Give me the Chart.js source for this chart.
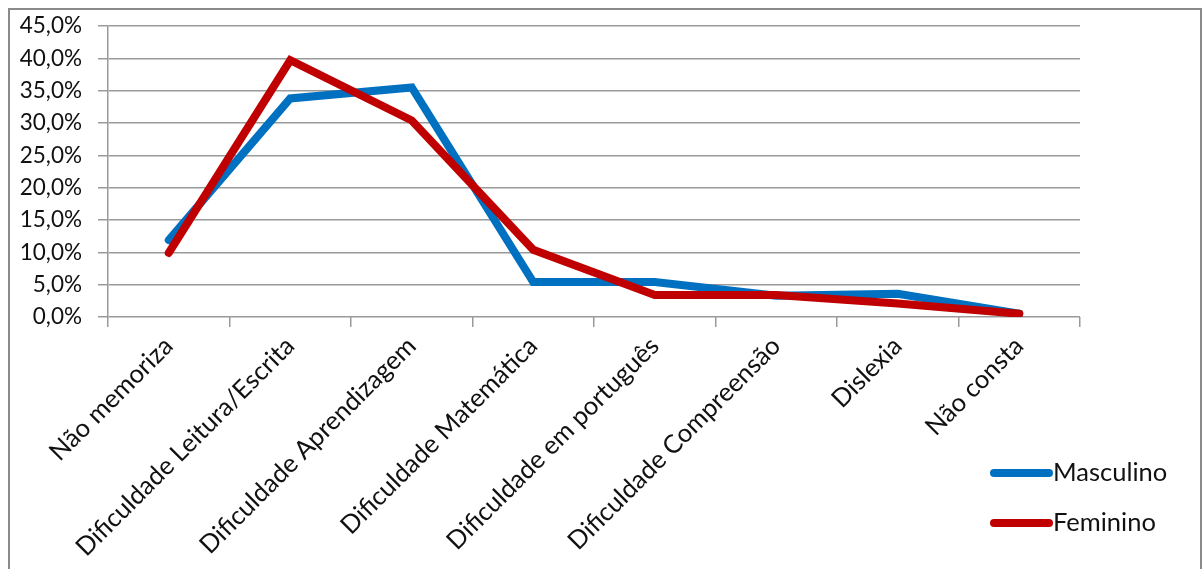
<!DOCTYPE html>
<html lang="pt">
<head>
<meta charset="utf-8">
<title>Dificuldades por sexo</title>
<script src="https://cdn.jsdelivr.net/npm/chart.js@4/dist/chart.umd.min.js"></script>
<style>
  html, body { margin: 0; padding: 0; background: #ffffff; }
  #wrap { position: relative; width: 1203px; height: 569px; }
</style>
</head>
<body>
<div id="wrap"><canvas id="chart" width="1203" height="569"></canvas></div>
<script>
// Categorias (eixo X)
const categorias = [
  'Não memoriza',
  'Dificuldade Leitura/Escrita',
  'Dificuldade Aprendizagem',
  'Dificuldade Matemática',
  'Dificuldade em português',
  'Dificuldade Compreensão',
  'Dislexia',
  'Não consta'
];

// Percentagens por sexo
const masculino = [11.9, 33.8, 35.5, 5.4, 5.4, 3.3, 3.6, 0.5];
const feminino  = [9.9, 39.7, 30.4, 10.4, 3.4, 3.4, 2.1, 0.5];

const nomesSeries = ['Masculino', 'Feminino'];
const coresSeries = ['#0070C0', '#C00000'];

// Escala Y
const yMin = 0, yMax = 45, yPasso = 5;

const FONT = 'Lato, "Open Sans", "DejaVu Sans", sans-serif';

// Moldura exterior do gráfico
const moldura = {
  id: 'moldura',
  beforeDraw(chart) {
    const ctx = chart.ctx;
    ctx.save();
    ctx.fillStyle = '#ffffff';
    ctx.fillRect(0, 0, chart.width, chart.height);
    ctx.strokeStyle = '#8a8a8a';
    ctx.lineWidth = 2;
    ctx.strokeRect(9, 9, chart.width - 11, chart.height + 20);
    ctx.restore();
  }
};

// Legenda no canto inferior direito
const legenda = {
  id: 'legenda',
  afterDraw(chart) {
    const ctx = chart.ctx;
    const area = chart.chartArea;
    const x0 = area.right - 90;
    let y = area.bottom + 156;
    ctx.save();
    ctx.font = '25.5px ' + FONT;
    ctx.textBaseline = 'middle';
    ctx.textAlign = 'left';
    chart.data.datasets.forEach(ds => {
      ctx.strokeStyle = ds.borderColor;
      ctx.lineWidth = 8;
      ctx.lineCap = 'round';
      ctx.beginPath();
      ctx.moveTo(x0 + 4, y);
      ctx.lineTo(x0 + 59, y);
      ctx.stroke();
      ctx.fillStyle = '#111111';
      ctx.fillText(ds.label, x0 + 63, y);
      y += 50;
    });
    ctx.restore();
  }
};

new Chart(document.getElementById('chart'), {
  type: 'line',
  data: {
    labels: categorias,
    datasets: [
      {
        label: nomesSeries[0],
        data: masculino,
        borderColor: coresSeries[0],
        backgroundColor: coresSeries[0],
        borderWidth: 8,
        borderCapStyle: 'round',
        borderJoinStyle: 'miter',
        pointRadius: 0,
        tension: 0,
        order: 2
      },
      {
        label: nomesSeries[1],
        data: feminino,
        borderColor: coresSeries[1],
        backgroundColor: coresSeries[1],
        borderWidth: 8,
        borderCapStyle: 'round',
        borderJoinStyle: 'miter',
        pointRadius: 0,
        tension: 0,
        order: 1
      }
    ]
  },
  options: {
    responsive: false,
    animation: false,
    layout: { padding: { left: 0, top: 26, right: 123, bottom: 0 } },
    plugins: {
      legend: { display: false },
      tooltip: { enabled: false }
    },
    scales: {
      x: {
        offset: true,
        grid: {
          offset: true,
          drawOnChartArea: false,
          drawTicks: true,
          tickLength: 10,
          color: '#9a9a9a',
          lineWidth: 1.5
        },
        border: { display: false },
        ticks: {
          autoSkip: false,
          minRotation: 45,
          maxRotation: 45,
          padding: 4,
          color: '#111111',
          font: { family: FONT, size: 25.5 }
        },
        afterFit(scale) { scale.height = 252; }
      },
      y: {
        min: yMin,
        max: yMax,
        grid: {
          color: '#9a9a9a',
          lineWidth: 1.5,
          tickLength: 10
        },
        border: { display: true, color: '#9a9a9a', width: 1.5 },
        ticks: {
          stepSize: yPasso,
          padding: 16,
          color: '#111111',
          font: { family: FONT, size: 22.5 },
          callback: v => v.toFixed(1).replace('.', ',') + '%'
        },
        afterFit(scale) {
          scale.width = 108;
          scale.paddingTop = 0;
          scale.paddingBottom = 0;
        }
      }
    }
  },
  plugins: [moldura, legenda]
});
</script>
</body>
</html>
